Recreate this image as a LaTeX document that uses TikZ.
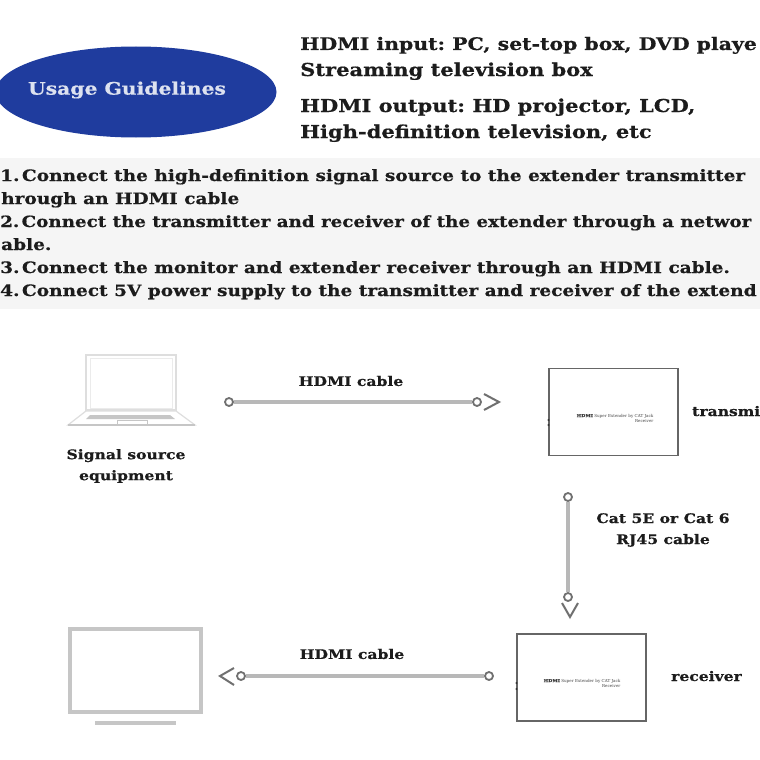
\documentclass[tikz,border=0pt]{standalone}
\usepackage{fontspec}
\usetikzlibrary{shapes.geometric}
\setmainfont{DejaVu Serif}[BoldFont={DejaVu Serif Bold},BoldFeatures={FakeStretch=1.18,FakeBold=0.6}]
\frenchspacing
\definecolor{cablegray}{HTML}{B8B8B8}
\definecolor{tipgray}{HTML}{707070}
\definecolor{boxgray}{HTML}{666666}
\definecolor{devgray}{HTML}{C6C6C6}
\definecolor{lapgray}{HTML}{DEDEDE}
\definecolor{bandgray}{HTML}{F5F5F5}
\definecolor{ovalblue}{HTML}{1F3C9E}
\definecolor{inkblack}{HTML}{1C1C1C}
\newcommand{\stepnum}[1]{#1.\kern-4pt\ }
\tikzset{
  body/.style={font=\fontsize{15.7}{18}\selectfont\bfseries, text=inkblack, inner sep=0pt, anchor=base west},
  headline/.style={font=\fontsize{17.8}{20}\selectfont\bfseries, text=inkblack, inner sep=0pt, anchor=base west},
  label/.style={font=\fontsize{13.2}{21}\selectfont\bfseries, text=inkblack, inner sep=0pt, align=center},
  cable/.style={line width=4pt, draw=cablegray},
  plug/.style={circle, draw=tipgray, line width=1.8pt, fill=white, minimum size=8pt, inner sep=0pt},
  devbox/.style={draw=boxgray, line width=1.6pt, fill=white, minimum width=129pt, minimum height=87pt, inner sep=0pt},
  tiptext/.style={font=\fontsize{4.1}{5}\selectfont, text=black!75, inner sep=0pt, align=right},
  chevron/.style={draw=tipgray, line width=2pt, line join=miter},
  dev/.style={draw=devgray, line width=4pt}
}
\begin{document}
\begin{tikzpicture}[x=1pt,y=-1pt]
\useasboundingbox (0,0) rectangle (760,760);
\clip (0,0) rectangle (760,760);
\fill[white] (0,0) rectangle (760,760);
\fill[bandgray] (0,158) rectangle (760,309);
\node[fill=ovalblue, ellipse, minimum width=281pt, minimum height=91pt, inner sep=0pt] (oval) at (136,92) {};
\node[font=\fontsize{17.2}{20}\selectfont\bfseries, text=white!85!ovalblue, inner sep=0pt] (title) at (127,90) {Usage Guidelines};
\node[headline, font=\fontsize{17.3}{20}\selectfont\bfseries] (i1) at (300,50) {HDMI input: PC, set-top box, DVD playe};
\node[headline] (i2) at (300,76) {Streaming television box};
\node[headline] (o1) at (300,112) {HDMI output: HD projector, LCD,};
\node[headline] (o2) at (300,138) {High-definition television, etc};
\node[body] (s1) at (0,181) {\stepnum{1}Connect the high-definition signal source to the extender transmitter};
\node[body] (s1b) at (1,204) {hrough an HDMI cable};
\node[body, font=\fontsize{15.5}{18}\selectfont\bfseries] (s2) at (0,227) {\stepnum{2}Connect the transmitter and receiver of the extender through a networ};
\node[body] (s2b) at (1,250) {able.};
\node[body] (s3) at (0,273) {\stepnum{3}Connect the monitor and extender receiver through an HDMI cable.};
\node[body] (s4) at (0,296) {\stepnum{4}Connect 5V power supply to the transmitter and receiver of the extend};
% laptop
\draw[draw=lapgray, line width=2pt, fill=white] (86,355) rectangle (176,410);
\draw[draw=lapgray!60, line width=1pt] (90,358) rectangle (172,408);
\draw[draw=lapgray, line width=1.2pt] (86,411) -- (176,411) -- (195,425) -- (68,425) -- cycle;
\draw[draw=devgray, line width=2pt] (68,425) -- (195,425);
\fill[devgray] (90,415) -- (170,415) -- (175,419) -- (86,419) -- cycle;
\draw[draw=devgray, line width=1pt] (117,420) rectangle (147,425);
\node[label] (src) at (126,466) {Signal source\\equipment};
% tv
\draw[dev, fill=white] (70,629) rectangle (201,712);
\draw[dev] (95,723) -- (176,723);
% boxes
\node[devbox] (tx) at (613.5,412) {};
\node[devbox] (rx) at (581.5,677.5) {};
\node[tiptext] (txt) at (615,418) {\textbf{HDMI} Super Extender by CAT Jack\\Receiver};
\node[tiptext] (rxt) at (582,683) {\textbf{HDMI} Super Extender by CAT Jack\\Receiver};
\fill[black!80] (548.5,420) circle (1.1pt) (548.5,425) circle (1.1pt);
\fill[black!80] (516.5,683) circle (1.1pt) (516.5,689) circle (1.1pt);
\node[label,anchor=base west] (txl) at (692,416) {transmi};
\node[label,anchor=base west] (rxl) at (671,681) {receiver};
% cables
\node[plug] (p1) at (229,402) {};
\node[plug] (p2) at (477,402) {};
\draw[cable] (p1) -- (p2);
\coordinate (t1) at (499,402);
\draw[chevron] (484,394) -- (t1) -- (484,410);
\node[label] (l1) at (351,381) {HDMI cable};
\node[plug] (p3) at (568,497) {};
\node[plug] (p4) at (568,597) {};
\draw[cable] (p3) -- (p4);
\coordinate (t2) at (570,617);
\draw[chevron] (562,603) -- (t2) -- (578,603);
\node[label] (l2) at (663,530) {Cat 5E or Cat 6\\RJ45 cable};
\node[plug] (p5) at (489,676) {};
\node[plug] (p6) at (241,676) {};
\draw[cable] (p5) -- (p6);
\coordinate (t3) at (220,676);
\draw[chevron] (234,668) -- (t3) -- (234,685);
\node[label] (l3) at (352,654) {HDMI cable};
\end{tikzpicture}
\end{document}
